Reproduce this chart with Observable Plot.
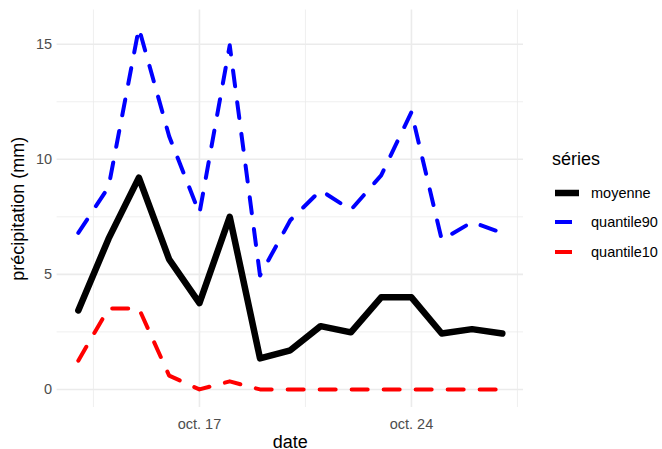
<!DOCTYPE html>
<html>
<head>
<meta charset="utf-8">
<script src="https://cdn.jsdelivr.net/npm/d3@7"></script>
<script src="https://cdn.jsdelivr.net/npm/@observablehq/plot@0.6"></script>
<style>
  html, body { margin: 0; padding: 0; background: #fff; }
  #wrap { position: relative; width: 662px; height: 449px; font-family: "Liberation Sans", Arial, sans-serif; }
  #legend { position: absolute; left: 552px; top: 148px; color: #000; }
  #legend .title { font-size: 18px; line-height: 22px; margin-bottom: 8px; }
  #legend .item { display: flex; align-items: center; height: 29.5px; font-size: 14.5px; }
  #legend svg { margin-right: 12px; }
</style>
</head>
<body>
<div id="wrap"></div>
<script>
const dates = ["2023-10-13","2023-10-14","2023-10-15","2023-10-16","2023-10-17","2023-10-18","2023-10-19","2023-10-20","2023-10-21","2023-10-22","2023-10-23","2023-10-24","2023-10-25","2023-10-26","2023-10-27"];
const moyenne    = [3.43, 6.55, 9.2, 5.65, 3.75, 7.5, 1.35, 1.7, 2.75, 2.48, 4.0, 4.0, 2.43, 2.62, 2.43];
const quantile90 = [6.8, 8.8, 15.7, 11.0, 7.65, 14.95, 4.95, 7.35, 8.65, 7.8, 9.3, 12.05, 6.5, 7.27, 6.8];
const quantile10 = [1.25, 3.52, 3.52, 0.6, 0.0, 0.35, 0, 0, 0, 0, 0, 0, 0, 0, 0];
const seriesNames = ["moyenne", "quantile90", "quantile10"];
const seriesColors = ["#000000", "#0000ff", "#ff0000"];
const majorX = ["2023-10-17", "2023-10-24"];
const minorX = ["2023-10-13T12:00", "2023-10-20T12:00", "2023-10-27T12:00"];
const majorY = [0, 5, 10, 15];
const minorY = [2.5, 7.5, 12.5];

const parse = s => new Date(s.length > 10 ? s + ":00Z" : s + "T00:00:00Z");
const rows = [];
const seriesValues = [moyenne, quantile90, quantile10];
seriesNames.forEach((name, i) => {
  dates.forEach((d, j) => rows.push({date: parse(d), value: seriesValues[i][j], serie: name}));
});

const fr = d3.timeFormatLocale({
  dateTime: "%A %e %B %Y à %X", date: "%d/%m/%Y", time: "%H:%M:%S", periods: ["AM", "PM"],
  days: ["dimanche","lundi","mardi","mercredi","jeudi","vendredi","samedi"],
  shortDays: ["dim.","lun.","mar.","mer.","jeu.","ven.","sam."],
  months: ["janvier","février","mars","avril","mai","juin","juillet","août","septembre","octobre","novembre","décembre"],
  shortMonths: ["janv.","févr.","mars","avr.","mai","juin","juil.","août","sept.","oct.","nov.","déc."]
});
const fmt = fr.utcFormat("%b %-d");

const t0 = parse(dates[0]), t1 = parse(dates[dates.length - 1]);
const span = t1 - t0;
const xDomain = [new Date(+t0 - 0.05 * span), new Date(+t1 + 0.05 * span)];
const allVals = [...moyenne, ...quantile90, ...quantile10];
const ymin = d3.min(allVals), ymax = d3.max(allVals);
const yDomain = [ymin - 0.05 * (ymax - ymin), ymax + 0.05 * (ymax - ymin)];

const dashed = "16,16";
const chart = Plot.plot({
  width: 662,
  height: 449,
  marginLeft: 56.6,
  marginRight: 139,
  marginTop: 9.5,
  marginBottom: 42,
  style: {fontFamily: "Liberation Sans, Arial, sans-serif", background: "#fff"},
  x: {type: "utc", domain: xDomain},
  y: {domain: yDomain},
  marks: [
    Plot.ruleX(minorX.map(parse), {stroke: "#ebebeb", strokeWidth: 0.8}),
    Plot.ruleY(minorY, {stroke: "#ebebeb", strokeWidth: 0.8}),
    Plot.ruleX(majorX.map(parse), {stroke: "#ebebeb", strokeWidth: 1.6}),
    Plot.ruleY(majorY, {stroke: "#ebebeb", strokeWidth: 1.6}),
    Plot.axisX(majorX.map(parse), {tickSize: 0, tickPadding: 11, tickFormat: fmt, fontSize: 14.5, color: "#4d4d4d", label: "date", labelAnchor: "center", labelArrow: "none", labelOffset: 40}),
    Plot.axisY(majorY, {tickSize: 0, tickPadding: 5, fontSize: 14.5, color: "#4d4d4d", label: "précipitation (mm)", labelAnchor: "center", labelArrow: "none", labelOffset: 46}),
    Plot.lineY(rows.filter(r => r.serie === "quantile10"), {x: "date", y: "value", stroke: seriesColors[2], strokeWidth: 4, strokeDasharray: dashed, strokeLinejoin: "round"}),
    Plot.lineY(rows.filter(r => r.serie === "quantile90"), {x: "date", y: "value", stroke: seriesColors[1], strokeWidth: 4, strokeDasharray: dashed, strokeLinejoin: "round"}),
    Plot.lineY(rows.filter(r => r.serie === "moyenne"), {x: "date", y: "value", stroke: seriesColors[0], strokeWidth: 6.5, strokeLinejoin: "round"})
  ]
});
// axis title styling
chart.querySelectorAll('[aria-label="x-axis label"] text, [aria-label="y-axis label"] text').forEach(t => {
  t.setAttribute("fill", "#000");
  t.setAttribute("font-size", "18");
});
const wrap = document.getElementById("wrap");
wrap.appendChild(chart);

const legend = document.createElement("div");
legend.id = "legend";
let html = '<div class="title">séries</div>';
seriesNames.forEach((n, i) => {
  const w = i === 0 ? 6.5 : 4;
  const dash = i === 0 ? "" : `stroke-dasharray="17,17"`;
  html += `<div class="item"><svg width="27" height="12"><line x1="3" x2="27" y1="6" y2="6" stroke="${seriesColors[i]}" stroke-width="${w}" ${dash}/></svg><span>${n}</span></div>`;
});
legend.innerHTML = html;
wrap.appendChild(legend);
</script>
</body>
</html>
